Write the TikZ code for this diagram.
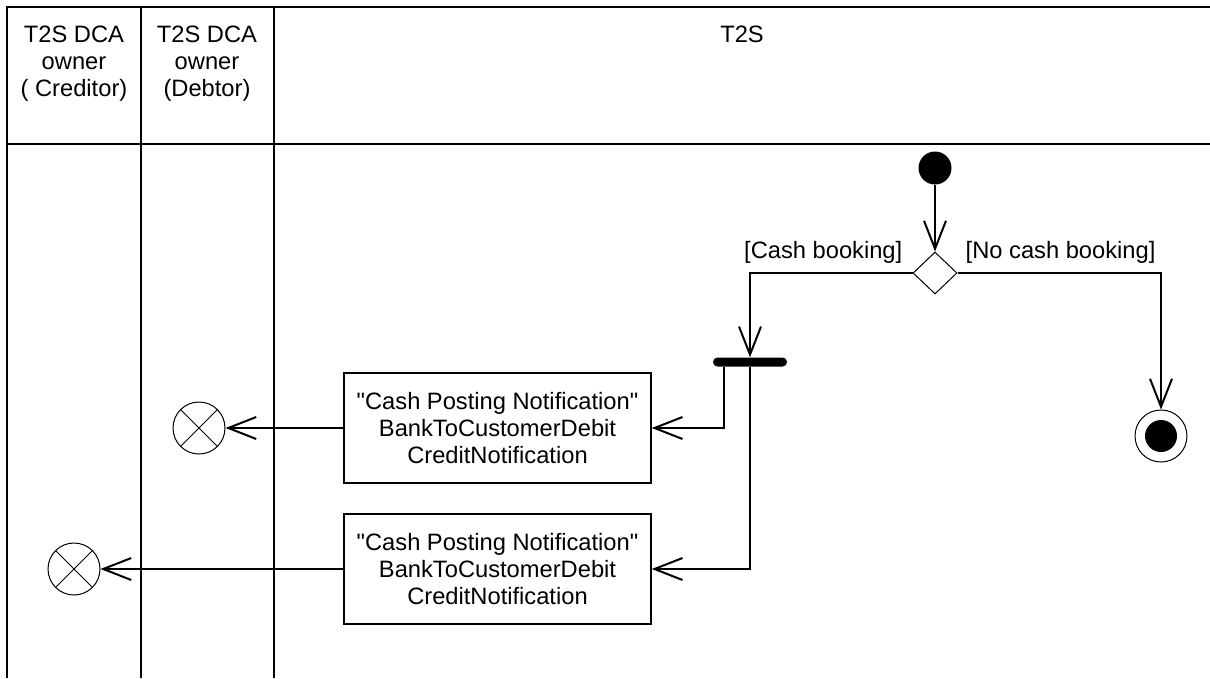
\documentclass[tikz,border=0pt]{standalone}
\usepackage{fontspec}
\setmainfont{Liberation Sans}
\usetikzlibrary{arrows.meta,shapes.geometric}

\begin{document}
\begin{tikzpicture}[x=1pt, y=-1pt, >={Straight Barb[length=28pt,width=22pt]},
	every node/.style={font=\fontsize{23.7}{26.8}\selectfont},
	lane/.style={line width=1.5pt},
	lanehead/.style={anchor=north, align=center, inner sep=0pt},
	flow/.style={->, line width=2pt},
	guard/.style={inner sep=2pt},
	action/.style={draw, line width=1.5pt, minimum width=307pt, minimum height=110pt, align=center, inner sep=0pt},
	startnode/.style={circle, fill, minimum size=33pt, inner sep=0pt},
	decision/.style={diamond, draw, line width=1pt, minimum width=44pt, minimum height=42pt, inner sep=0pt},
	forkbar/.style={rectangle, fill, rounded corners=4.5pt, minimum width=74pt, minimum height=9pt, inner sep=0pt},
	ffinal/.style={circle, draw, line width=1pt, minimum size=52pt, inner sep=0pt,
		path picture={\draw[line width=1pt] (path picture bounding box.north west) -- (path picture bounding box.south east)
			(path picture bounding box.north east) -- (path picture bounding box.south west);}},
	endnode/.style={circle, draw, line width=1pt, minimum size=52pt, inner sep=0pt,
		path picture={\fill (path picture bounding box.center) circle (16pt);}}]
	\useasboundingbox (0,0) rectangle (1210,678);
	
	% 1. 泳道
	\draw[lane] (1210,7) -- (7,7) -- (7,678);
	\draw[lane] (7,144) -- (1210,144);
	\draw[lane] (141,7) -- (141,678);
	\draw[lane] (274,7) -- (274,678);
	\node[lanehead] (hcred) at (74,26) {T2S DCA\\owner\\( Creditor)};
	\node[lanehead] (hdebt) at (207,26) {T2S DCA\\owner\\(Debtor)};
	\node[lanehead] (ht2s) at (742,26) {T2S};
	
	% 2. 节点
	\node[startnode] (start) at (935,168) {};
	\node[decision] (dec) at (935,273) {};
	\node[forkbar] (fork) at (750,362) {};
	\node[endnode] (end) at (1161,436) {};
	\node[action] (msg1) at (497.5,428) {\textquotedbl Cash Posting Notification\textquotedbl\\BankToCustomerDebit\\CreditNotification};
	\node[action] (msg2) at (497.5,569) {\textquotedbl Cash Posting Notification\textquotedbl\\BankToCustomerDebit\\CreditNotification};
	\node[ffinal] (ff1) at (199,428) {};
	\node[ffinal] (ff2) at (74,569) {};
	
	% 3. 分支条件
	\node[guard, anchor=south east] (gcash) at ([xshift=-8pt,yshift=7pt]dec.west) {[Cash booking]};
	\node[guard, anchor=south west] (gnocash) at ([xshift=6pt,yshift=7pt]dec.east) {[No cash booking]};
	
	% 4. 连线
	\draw[flow] (start) -- (dec);
	\draw[flow] (dec.west) -| (fork.north);
	\draw[flow] (dec.east) -| (end.north);
	\draw[flow] ([xshift=-26pt]fork.south) |- (msg1.east);
	\draw[flow] (fork.south) |- (msg2.east);
	\draw[flow] (msg1) -- (ff1);
	\draw[flow] (msg2) -- (ff2);
\end{tikzpicture}
\end{document}
